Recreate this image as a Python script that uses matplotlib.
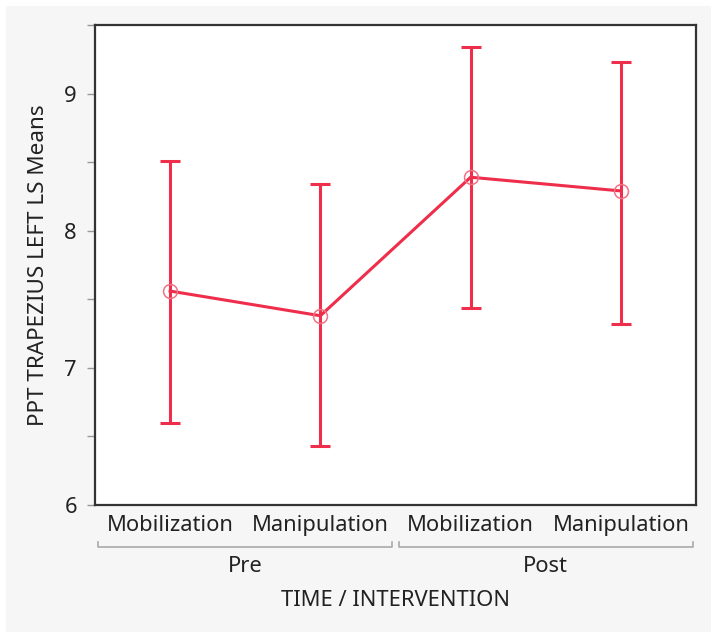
import matplotlib
matplotlib.use("Agg")
import matplotlib.pyplot as plt
from matplotlib.patches import Rectangle
from matplotlib.transforms import blended_transform_factory
from matplotlib.ticker import MultipleLocator

categories = ["Mobilization", "Manipulation", "Mobilization", "Manipulation"]
groups = ["Pre", "Post"]
means = [7.56, 7.38, 8.39, 8.29]
upper = [8.51, 8.34, 9.34, 9.23]
lower = [6.60, 6.43, 7.44, 7.32]
yticks = [6, 7, 8, 9]

plt.rcParams['font.family'] = ['Noto Sans', 'DejaVu Sans']

W, H = 717, 635
FS = 15.8
TXT = "#222222"
fig = plt.figure(figsize=(W / 100, H / 100), dpi=100, facecolor="white")
fig.patches.append(Rectangle((6 / W, 3 / H), 705 / W, 626 / H, transform=fig.transFigure,
                             facecolor="#f6f6f6", edgecolor="none", zorder=-10))

ax = fig.add_axes([95 / W, 130 / H, 601 / W, 480 / H])
ax.set_facecolor("white")
red = "#ee2e4a"
x = list(range(len(means)))
yerr = [[m - l for m, l in zip(means, lower)], [u - m for m, u in zip(means, upper)]]
ax.errorbar(x, means, yerr=yerr, fmt="none", ecolor=red, elinewidth=2.2,
            capsize=7.2, capthick=2.2, zorder=2)
ax.plot(x, means, color=red, lw=2.2, zorder=3)
ax.plot(x, means, ls="none", marker="o", ms=10, mfc="none", mec="#f27385", mew=1.1, zorder=4)

ax.set_xlim(-0.5, 3.5)
ax.set_ylim(6, 9.5)
ax.set_yticks(yticks)
ax.yaxis.set_minor_locator(MultipleLocator(0.5))
ax.tick_params(axis="y", which="both", direction="out", length=6, width=1, color="#999999",
               labelsize=FS, labelcolor=TXT, pad=7)
ax.tick_params(axis="x", which="both", length=0, labelsize=FS, labelcolor=TXT, pad=7)
ax.set_xticks(x)
ax.set_xticklabels(categories)
for s in ax.spines.values():
    s.set_color("#333333")
    s.set_linewidth(1.6)

ax.set_ylabel("PPT TRAPEZIUS LEFT LS Means", fontsize=FS + 0.4, color=TXT)
ax.yaxis.set_label_coords((38 - 95) / 601, 0.5)
ax.yaxis.label.set_va("center")

tr = blended_transform_factory(ax.transData, fig.transFigure)
bracket_y = (H - 547) / H
tick_h = 5 / H
for gi, g in enumerate(groups):
    x0 = gi * 2 - 0.48
    x1 = gi * 2 + 1.48
    ax.plot([x0, x0, x1, x1], [bracket_y + tick_h, bracket_y, bracket_y, bracket_y + tick_h],
            transform=tr, color="#aaaaaa", lw=1.2, clip_on=False)
    ax.text(gi * 2 + 0.5, (H - 566) / H, g, transform=tr, ha="center", va="center",
            fontsize=FS, color=TXT)

fig.text((95 + 601 / 2) / W, (H - 601) / H, "TIME / INTERVENTION", ha="center", va="center",
         fontsize=FS, color=TXT)

fig.savefig("out.png", dpi=100, facecolor=fig.get_facecolor())
